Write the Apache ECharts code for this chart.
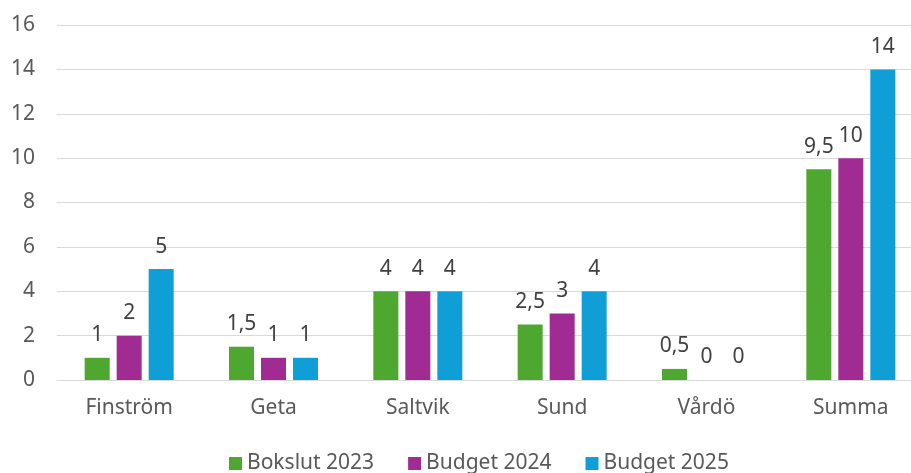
<!DOCTYPE html>
<html>
<head>
<meta charset="utf-8">
<script src="https://cdn.jsdelivr.net/npm/echarts@6/dist/echarts.min.js"></script>
<style>
  html, body { margin: 0; padding: 0; background: #fff; }
  #chart { width: 911px; height: 473px; }
</style>
</head>
<body>
<div id="chart"></div>
<script>
// data
const categories = ['Finström', 'Geta', 'Saltvik', 'Sund', 'Vårdö', 'Summa']
const bokslut2023 = [1, 1.5, 4, 2.5, 0.5, 9.5]
const budget2024 = [2, 1, 4, 3, 0, 10]
const budget2025 = [5, 1, 4, 4, 0, 14]
const seriesNames = ['Bokslut 2023', 'Budget 2024', 'Budget 2025']
const colors = ['#4ea72e', '#a02b93', '#0f9ed5']

const font = '"Noto Sans", sans-serif'

const chart = echarts.init(document.getElementById('chart'))

const makeSeries = (name, data, color) => ({
  name,
  type: 'bar',
  data,
  barWidth: 25,
  barGap: '28%',
  itemStyle: { color },
  label: {
    show: true,
    position: 'top',
    distance: 12,
    color: '#404040',
    fontSize: 21,
    fontFamily: font,
    formatter: p => String(p.value).replace('.', ',')
  }
})

chart.setOption({
  animation: false,
  textStyle: { fontFamily: font },
  // plot area runs a little past the right edge, as in the original
  grid: { left: 57, right: -12, top: 25, bottom: 93, outerBoundsMode: 'none' },
  legend: {
    top: 448,
    left: 224,
    icon: 'rect',
    itemWidth: 13,
    itemHeight: 13,
    itemGap: 34,
    textStyle: { fontSize: 21, color: '#595959', fontFamily: font }
  },
  xAxis: {
    type: 'category',
    data: categories,
    axisLine: { lineStyle: { color: '#d9d9d9' } },
    axisTick: { show: false },
    axisLabel: { fontSize: 21, color: '#595959', margin: 18 }
  },
  yAxis: {
    type: 'value',
    min: 0,
    max: 16,
    interval: 2,
    axisLine: { show: false },
    axisTick: { show: false },
    axisLabel: { fontSize: 21, color: '#595959', margin: 22 },
    splitLine: { lineStyle: { color: '#d9d9d9', width: 1 } }
  },
  series: [
    makeSeries(seriesNames[0], bokslut2023, colors[0]),
    makeSeries(seriesNames[1], budget2024, colors[1]),
    makeSeries(seriesNames[2], budget2025, colors[2])
  ]
})
</script>
</body>
</html>
